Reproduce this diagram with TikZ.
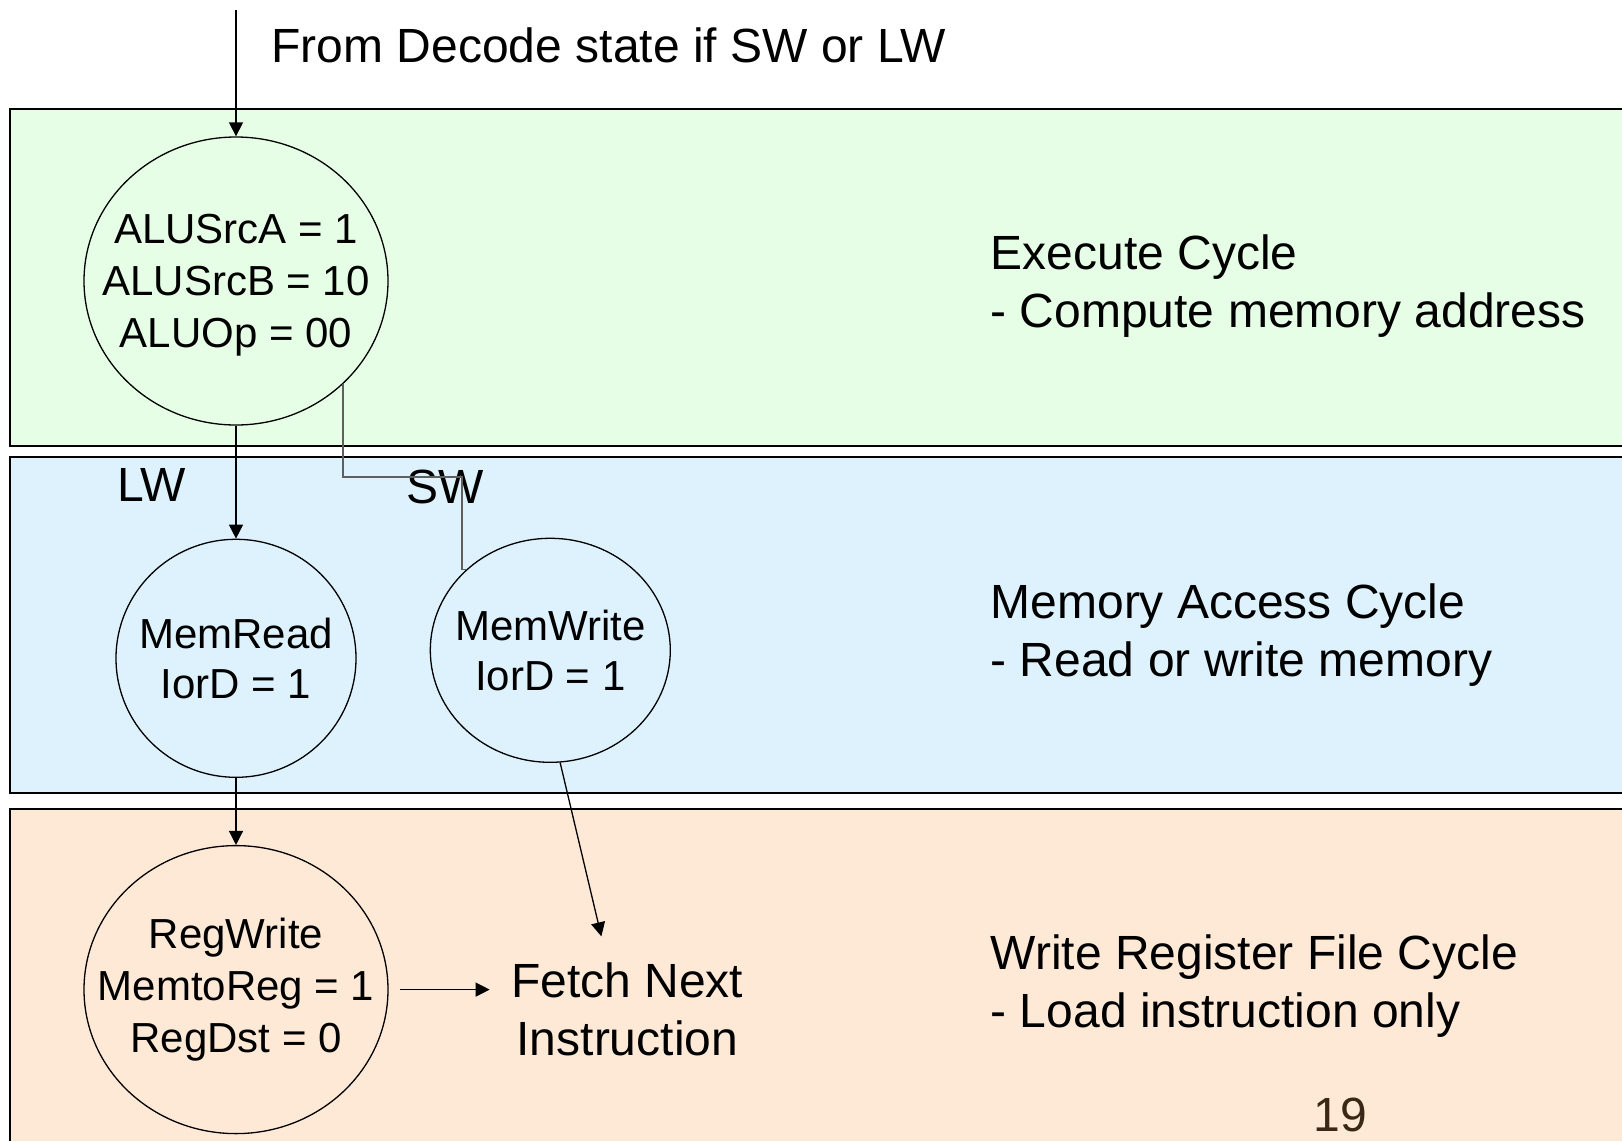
\documentclass[tikz,border=0pt]{standalone}
\usepackage{fontspec}
\setmainfont{Liberation Sans}
\usepackage{tikz}
\usetikzlibrary{arrows.meta}
\usetikzlibrary{positioning}
\usetikzlibrary{shapes.geometric}
\usetikzlibrary{calc}

\definecolor{execgreen}{RGB}{230,254,230}
\definecolor{memblue}{RGB}{222,242,254}
\definecolor{wbpeach}{RGB}{254,233,214}
\definecolor{pagebrown}{RGB}{58,40,22}
\definecolor{wiregray}{RGB}{95,95,95}

\begin{document}
\begin{tikzpicture}[x=0.5pt,y=-0.5pt,->,>={Triangle[length=7pt,width=7pt]},
                    line width=0.65pt,
                    state node/.style={ellipse,draw,line width=0.65pt,inner xsep=-20pt,inner ysep=0pt,
                                       align=center,font=\fontsize{21}{26}\selectfont},
                    cycle text/.style={anchor=north west,inner sep=0pt,align=left,font=\fontsize{24}{29}\selectfont},
                    big text/.style={inner sep=0pt,font=\fontsize{24}{29}\selectfont},
                    band/.style={-,line width=1.3pt},
                    sw wire/.style={-,draw=wiregray,line width=0.6pt}]

  \useasboundingbox (0,0) rectangle (1622,1141);

  \fill[-,execgreen] (10,109) rectangle (1622,446);
  \fill[-,memblue] (10,457) rectangle (1622,793);
  \fill[-,wbpeach] (10,809) rectangle (1622,1141);
  \draw[band] (1622,109) -| (10,446) -- (1622,446);
  \draw[band] (1622,457) -| (10,793) -- (1622,793);
  \draw[band] (1622,809) -| (10,1141);

  \node[state node, minimum width=152pt, minimum height=144pt, text depth=0pt] (alu) at (236,281) {ALUSrcA = 1\\ALUSrcB = 10\\ALUOp = 00};
  \node[state node, minimum width=120pt, minimum height=119pt, font=\fontsize{21}{25}\selectfont] (memr) [below=56.5pt of alu] {MemRead\\IorD = 1};
  \node[state node, minimum width=120pt, minimum height=112pt, font=\fontsize{21}{25}\selectfont] (memw) [right=36.5pt of memr, yshift=4pt] {MemWrite\\IorD = 1};
  \node[state node, minimum width=152pt, minimum height=144pt] (regw) [below=33.5pt of memr] {RegWrite\\MemtoReg = 1\\RegDst = 0};
  \node[big text, inner xsep=10.5pt, inner ysep=13pt, align=center] (fetch) [right=50.5pt of regw, yshift=-10pt] {Fetch Next\\Instruction};

  \node[big text, anchor=base west] (from) at (271,62) {From Decode state if SW or LW};
  \node[big text, anchor=base west] (lw) at (117,501) {LW};
  \node[big text, anchor=base west] (sw) at (406,503) {SW};

  \node[cycle text] (exec) at (990,234) {Execute Cycle\\- Compute memory address};
  \node[cycle text] (mema) at (990,583) {Memory Access Cycle\\- Read or write memory};
  \node[cycle text] (wreg) at (990,934) {Write Register File Cycle\\- Load instruction only};

  \node[big text, anchor=base west, text=pagebrown] (page) at (1313,1131) {19};

  \coordinate (entry) at (236,10);
  \coordinate (swbend) at (462,477);

  \draw (entry) -- (alu);
  \draw (alu) -- (memr);
  \draw (memr) -- (regw);
  \draw (memw.-85) -- ($(fetch.north)+(-26,0)$);
  \draw[shorten <=5.5pt] (regw.east) -- (regw.east -| fetch.west);
  \draw[sw wire] (alu.-44) |- (swbend) |- (memw.136);
\end{tikzpicture}
\end{document}
